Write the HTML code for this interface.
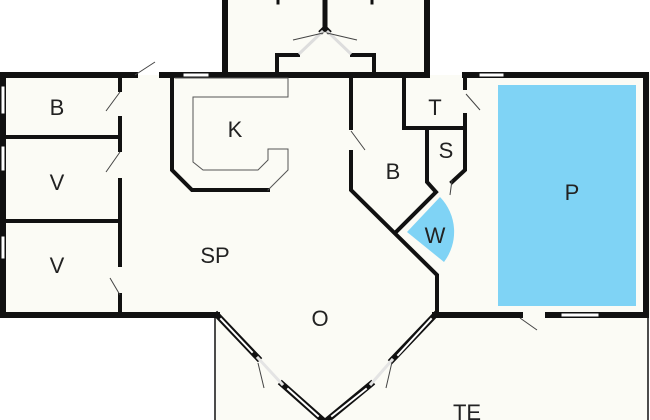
<!DOCTYPE html>
<html><head><style>html,body{margin:0;padding:0;background:#fff}svg{display:block}</style></head><body>
<svg width="650" height="420" viewBox="0 0 650 420" xmlns="http://www.w3.org/2000/svg" font-family="Liberation Sans, sans-serif">
<polygon points="0,75 225,75 225,0 427,0 427,75 650,75 650,315 435,315 325,425 217,315 0,315" fill="#fbfbf5"/>
<rect x="215" y="315" width="433" height="105" fill="#fbfbf5"/>
<rect x="498" y="85" width="138" height="221" fill="#7fd3f5"/>
<path d="M407,232 L440,197 A50,50 0 0 1 444,262 Z" fill="#7fd3f5"/>
<g stroke="#111" fill="none" stroke-linecap="square">
<path d="M3,75 H135 M162,75 H182 M210,75 H427 M465,75 H478 M505,75 H646 V315" stroke-width="6"/>
<path d="M3,75 V85 M3,115 V145 M3,172 V235 M3,260 V315 H217" stroke-width="6"/>
<path d="M435,315 H520 M548,315 H560 M600,315 H646" stroke-width="6"/>
<path d="M225,0 V75 M427,0 V75" stroke-width="6"/>
<path d="M182,75 H210 M478,75 H505 M560,315 H600 M3,85 V115 M3,145 V172 M3,235 V260" stroke-width="6"/>
<path d="M185,75 H207 M481,75 H502 M563,315 H597 M3,88 V112 M3,148 V169 M3,238 V257" stroke-width="3" stroke="#fff"/>
<path d="M120,75 V90 M120,118 V150 M120,180 V265 M120,295 V315" stroke-width="4"/>
<path d="M6,137 H120 M6,221 H120" stroke-width="4"/>
<path d="M172,78 V170 L192,190 H268" stroke-width="4"/>
<path d="M175,78 H288 V97 H193 V162 L203,170 H258 L268,160 V149 H288 V170 L268,190" stroke-width="1" stroke="#555"/>
<path d="M277,75 V55 H298 M352,55 H374 V75" stroke-width="4"/>
<path d="M325,0 V28 M320,33 L325,28 L330,33" stroke-width="5" stroke-linecap="butt"/>
<path d="M278,0 V3 M372,0 V3" stroke-width="3"/>
<path d="M300,53 L322,32 M350,53 L328,32" stroke-width="3" stroke="#ddd"/>
<path d="M351,75 V128 M351,152 V190 L437,275 V315" stroke-width="4"/>
<path d="M404,75 V128 H465 M465,75 V88 M465,115 V170 L452,182" stroke-width="4"/>
<path d="M427,128 V182 L436,192 L396,232" stroke-width="4"/>
<path d="M217,315 L258,358 M282,384 L325,422 L371,384 M392,360 L435,315" stroke-width="6"/>
<path d="M221,319 L252,352 M288,389 L318,416 M332,416 L366,389 M398,355 L431,319" stroke-width="2" stroke="#fff"/>
<path d="M258,358 L282,384 M371,384 L392,360" stroke-width="3" stroke="#e4e4e4"/>
<path d="M215,315 V420 M648,315 V420" stroke-width="1.5"/>
</g>
<g stroke="#444" stroke-width="1" fill="none">
<path d="M135,75 L155,62 M106,111 L120,92 M106,172 L120,152 M110,278 L120,295 M323,33 L293,40 M327,33 L357,40 M351,131 L365,150 M466,94 L480,110 M452,180 L450,195 M520,318 L537,330 M258,363 L264,388 M392,362 L386,388"/>
</g>
<g font-size="22" fill="#222" text-anchor="middle">
<text x="57" y="115">B</text>
<text x="57" y="190">V</text>
<text x="57" y="273">V</text>
<text x="235" y="137">K</text>
<text x="215" y="263">SP</text>
<text x="320" y="326">O</text>
<text x="393" y="179">B</text>
<text x="435" y="115">T</text>
<text x="446" y="158">S</text>
<text x="435" y="243">W</text>
<text x="572" y="200">P</text>
<text x="467" y="420">TE</text>
</g>
</svg>
</body></html>
